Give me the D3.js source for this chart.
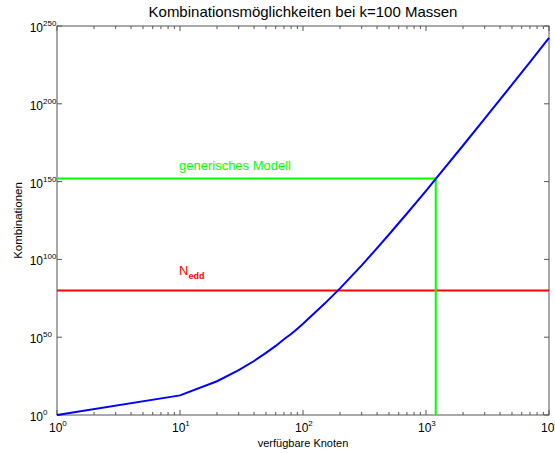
<!DOCTYPE html>
<html>
<head>
<meta charset="utf-8">
<script src="https://cdn.jsdelivr.net/npm/d3@7"></script>
<style>
  body { margin: 0; background: #fff; }
  svg { font-family: "Liberation Sans", Arial, sans-serif; }
</style>
</head>
<body>
<div id="chart"></div>
<script>
// verfügbare Knoten n und log10 der Kombinationen
var knoten = [1, 10, 20, 30, 40, 50, 60, 70, 80, 90, 100, 150, 200, 300, 400, 500, 700, 1000, 1200, 2000, 3000, 5000, 7000, 10000];
var logKomb = [0, 12.6, 21.7, 28.8, 34.7, 39.9, 44.4, 48.7, 52.1, 55.5, 58.6, 71.6, 81.4, 96.2, 107.2, 116.0, 129.5, 144.1, 151.7, 173.2, 190.4, 212.3, 226.8, 242.3];

var xTicks = [0, 1, 2, 3, 4];            // Exponenten x-Achse
var yTicks = [0, 50, 100, 150, 200, 250]; // Exponenten y-Achse

var nGenerisch = 1200;   // Knoten für generisches Modell
var logGenerisch = 152;  // Kombinationen generisches Modell
var logEdd = 80;         // Eddington-Zahl

var margin = { top: 26, right: 6, bottom: 38, left: 57 },
  width = 555 - margin.left - margin.right,
  height = 453 - margin.top - margin.bottom;

var svg = d3.select("#chart")
  .append("svg")
  .attr("width", 555)
  .attr("height", 453)
  .append("g")
  .attr("transform", "translate(" + margin.left + "," + margin.top + ")");

var x = d3.scaleLog().domain([1, 1e4]).range([0, width]);
// y in Exponenten (Werte bis 1e250)
var y = d3.scaleLinear().domain([0, 250]).range([height, 0]);

var data = knoten.map(function(n, i) { return { n: n, e: logKomb[i] }; });

// Achsen-Box
svg.append("rect")
  .attr("width", width).attr("height", height)
  .attr("fill", "none").attr("stroke", "#555").attr("stroke-width", 1);

// Ticks x (major + minor), unten und oben
var minor = [];
for (var d = 0; d < 4; d++) {
  for (var m = 2; m <= 9; m++) minor.push(m * Math.pow(10, d));
}
svg.selectAll(".xminor")
  .data(minor.concat(minor))
  .enter().append("line")
  .attr("x1", function(d) { return x(d); }).attr("x2", function(d) { return x(d); })
  .attr("y1", function(d, i) { return i < minor.length ? height : 0; })
  .attr("y2", function(d, i) { return i < minor.length ? height - 3 : 3; })
  .attr("stroke", "#555");

svg.selectAll(".xmajor")
  .data(xTicks.concat(xTicks))
  .enter().append("line")
  .attr("x1", function(d) { return x(Math.pow(10, d)); }).attr("x2", function(d) { return x(Math.pow(10, d)); })
  .attr("y1", function(d, i) { return i < xTicks.length ? height : 0; })
  .attr("y2", function(d, i) { return i < xTicks.length ? height - 5 : 5; })
  .attr("stroke", "#555");

svg.selectAll(".ymajor")
  .data(yTicks.concat(yTicks))
  .enter().append("line")
  .attr("y1", function(d) { return y(d); }).attr("y2", function(d) { return y(d); })
  .attr("x1", function(d, i) { return i < yTicks.length ? 0 : width; })
  .attr("x2", function(d, i) { return i < yTicks.length ? 5 : width - 5; })
  .attr("stroke", "#555");

// Tick-Beschriftungen
svg.selectAll(".xlab")
  .data(xTicks)
  .enter().append("text")
  .attr("x", function(d) { return x(Math.pow(10, d)) - 8; })
  .attr("y", height + 17)
  .attr("font-size", "12px")
  .attr("fill", "#000")
  .each(function(d) {
    var t = d3.select(this);
    t.append("tspan").text("10");
    t.append("tspan").attr("dy", -6).attr("font-size", "8px").text(d);
  });

svg.selectAll(".ylab")
  .data(yTicks)
  .enter().append("text")
  .attr("x", -14)
  .attr("y", function(d) { return y(d) + 6; })
  .attr("font-size", "12px")
  .attr("fill", "#000")
  .attr("text-anchor", "end")
  .text("10");
svg.selectAll(".ysup")
  .data(yTicks)
  .enter().append("text")
  .attr("x", -14)
  .attr("y", function(d) { return y(d); })
  .attr("font-size", "8px")
  .attr("fill", "#000")
  .text(function(d) { return d; });

// Linien: Eddington-Zahl und generisches Modell
svg.append("line")
  .attr("x1", 0).attr("x2", width)
  .attr("y1", y(logEdd)).attr("y2", y(logEdd))
  .attr("stroke", "#ff0000").attr("stroke-width", 2);

svg.append("path")
  .attr("d", d3.line()([[0, y(logGenerisch)], [x(nGenerisch), y(logGenerisch)], [x(nGenerisch), height]]))
  .attr("fill", "none")
  .attr("stroke", "#00ff00").attr("stroke-width", 2);

// Kurve
svg.append("path")
  .datum(data)
  .attr("fill", "none")
  .attr("stroke", "#0000ff")
  .attr("stroke-width", 2)
  .attr("d", d3.line()
    .x(function(d) { return x(d.n); })
    .y(function(d) { return y(d.e); }));

// Beschriftungen im Plot
svg.append("text")
  .attr("x", x(10) - 1).attr("y", y(logGenerisch) - 8)
  .attr("font-size", "13px").attr("fill", "#00ff00")
  .text("generisches Modell");

var ned = svg.append("text")
  .attr("x", x(10) - 1).attr("y", y(logEdd) - 16)
  .attr("font-size", "13px").attr("fill", "#ff0000");
ned.append("tspan").text("N");
ned.append("tspan").attr("dy", 4).attr("font-size", "9px").attr("font-weight", "bold").text("edd");

// Titel und Achsentitel
svg.append("text")
  .attr("x", width / 2).attr("y", -9)
  .attr("text-anchor", "middle")
  .attr("font-size", "15px")
  .attr("fill", "#000")
  .text("Kombinationsmöglichkeiten bei k=100 Massen");

svg.append("text")
  .attr("x", width / 2).attr("y", height + 32)
  .attr("text-anchor", "middle")
  .attr("font-size", "11px")
  .attr("fill", "#000")
  .text("verfügbare Knoten");

svg.append("text")
  .attr("transform", "translate(" + (-35) + "," + (height / 2) + ")rotate(-90)")
  .attr("text-anchor", "middle")
  .attr("font-size", "11.5px")
  .attr("fill", "#000")
  .text("Kombinationen");
</script>
</body>
</html>
